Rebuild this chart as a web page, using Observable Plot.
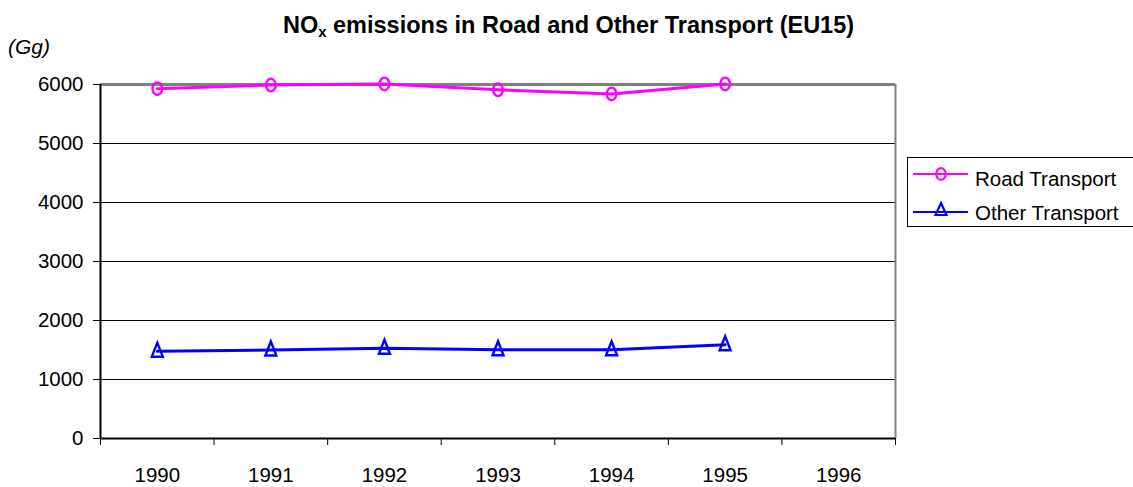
<!DOCTYPE html>
<html><head><meta charset="utf-8">
<script src="https://cdn.jsdelivr.net/npm/d3@7"></script>
<script src="https://cdn.jsdelivr.net/npm/@observablehq/plot@0.6"></script>
<style>
body{margin:0;background:#fff;font-family:"Liberation Sans",Arial,sans-serif;}
#wrap{position:relative;width:1133px;height:487px;overflow:hidden;}
#title{position:absolute;left:0;width:1137px;top:13px;line-height:24px;text-align:center;font-weight:bold;font-size:23.5px;color:#000;}
#unit{position:absolute;left:8px;top:36px;line-height:21px;font-style:italic;font-size:21px;}
#chart{position:absolute;left:0;top:60px;}
#legend{position:absolute;left:907px;top:157px;width:240px;height:68px;border:1px solid #000;background:#fff;}
.item{position:absolute;left:0;height:24px;font-size:20.5px;line-height:24px;}
.item svg{position:absolute;left:5px;top:0;}
.item span{position:absolute;left:67px;top:0;white-space:nowrap;}
</style></head>
<body><div id="wrap">
<div id="title">NO<sub style="font-size:15px;line-height:0;vertical-align:-4px">x</sub> emissions in Road and Other Transport (EU15)</div>
<div id="unit">(Gg)</div>
<div id="chart"></div>
<div id="legend"></div>
</div>
<script>
const years = [1990, 1991, 1992, 1993, 1994, 1995, 1996];
const dataYears = [1990, 1991, 1992, 1993, 1994, 1995];
const roadTransport = [5930, 5990, 6010, 5910, 5840, 6010];
const otherTransport = [1480, 1500, 1530, 1505, 1505, 1590];
const seriesNames = ["Road Transport", "Other Transport"];
const seriesColors = ["#ff00ff", "#0000ff"];
const yTicks = [0, 1000, 2000, 3000, 4000, 5000, 6000];

// open marker shapes (Excel-like tall ellipse and triangle)
const ellipseSym = {draw(ctx) {
  const rx = 4.8, ry = 6.3, k = 0.5523;
  ctx.moveTo(0, -ry);
  ctx.bezierCurveTo(k * rx, -ry, rx, -k * ry, rx, 0);
  ctx.bezierCurveTo(rx, k * ry, k * rx, ry, 0, ry);
  ctx.bezierCurveTo(-k * rx, ry, -rx, k * ry, -rx, 0);
  ctx.bezierCurveTo(-rx, -k * ry, -k * rx, -ry, 0, -ry);
  ctx.closePath();
}};
const triSym = {draw(ctx) {
  ctx.moveTo(0, -8.5);
  ctx.lineTo(5.5, 5.5);
  ctx.lineTo(-5.5, 5.5);
  ctx.closePath();
}};

const rows = [];
dataYears.forEach((y, i) => {
  rows.push({year: y, value: roadTransport[i], series: seriesNames[0]});
  rows.push({year: y, value: otherTransport[i], series: seriesNames[1]});
});
const bounds = [years[0] - 0.5, ...years.map(y => y + 0.5)];
const font = '"Liberation Sans", Arial, sans-serif';

const chart = Plot.plot({
  width: 1133, height: 427,
  marginLeft: 100, marginRight: 238, marginTop: 24, marginBottom: 49,
  style: {fontFamily: font, fontSize: "20.5px", color: "#000", background: "transparent", overflow: "visible"},
  x: {type: "linear", domain: [bounds[0], bounds[bounds.length - 1]]},
  y: {domain: [0, 6000]},
  color: {domain: seriesNames, range: seriesColors},
  symbol: {domain: seriesNames, range: [ellipseSym, triSym]},
  marks: [
    Plot.ruleY(yTicks.slice(1, -1), {stroke: "#000", strokeWidth: 1}),
    Plot.ruleY([6000], {stroke: "#808080", strokeWidth: 3}),
    Plot.ruleX([bounds[bounds.length - 1]], {stroke: "#808080", strokeWidth: 2}),
    Plot.axisX({ticks: bounds, tickFormat: () => "", tickSize: 7, stroke: "#000", label: null}),
    Plot.axisX({ticks: years, tickFormat: d => String(d), tickSize: 0, tickPadding: 29, fontSize: 20.5, label: null}),
    Plot.axisY({ticks: yTicks, tickSize: 7, tickPadding: 10, fontSize: 20.5, tickFormat: d => String(d), label: null}),
    Plot.ruleX([bounds[0]], {stroke: "#000", strokeWidth: 2}),
    Plot.ruleY([0], {stroke: "#000", strokeWidth: 2}),
    Plot.line(rows, {x: "year", y: "value", z: "series", stroke: "series", strokeWidth: 3}),
    Plot.dot(rows, {x: "year", y: "value", stroke: "series", symbol: "series", fill: "none", r: 5, strokeWidth: 2.4})
  ]
});
document.getElementById("chart").appendChild(chart);

const legend = document.getElementById("legend");
seriesNames.forEach((name, i) => {
  const div = document.createElement("div");
  div.className = "item";
  div.style.top = (9 + i * 34) + "px";
  const c = seriesColors[i];
  const sym = i === 0
    ? `<ellipse cx="28" cy="7" rx="4.8" ry="5.8" fill="none" stroke="${c}" stroke-width="2.2"/>`
    : `<path d="M28,2 L33.5,14 L22.5,14 Z" fill="none" stroke="${c}" stroke-width="2.2"/>`;
  const ly = i === 0 ? 7 : 11;
  div.innerHTML = `<svg width="60" height="24"><line x1="0" x2="55" y1="${ly}" y2="${ly}" stroke="${c}" stroke-width="2"/>${sym}</svg><span>${name}</span>`;
  legend.appendChild(div);
});
</script>
</body></html>
